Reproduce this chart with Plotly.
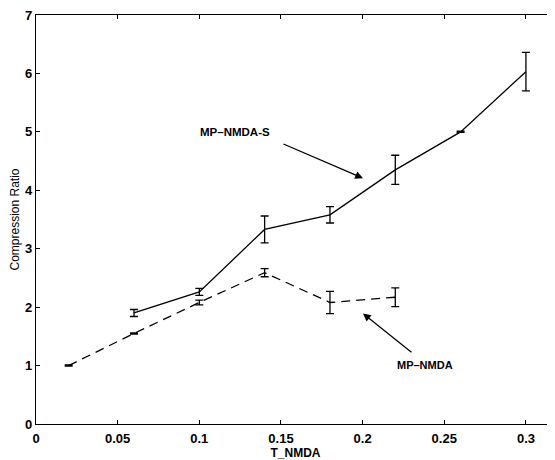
import plotly.graph_objects as go

# MP-NMDA-S (solid)
s_x = [0.06, 0.10, 0.14, 0.18, 0.22, 0.26, 0.30]
s_y = [1.90, 2.26, 3.33, 3.58, 4.35, 5.00, 6.03]
s_err = [0.06, 0.06, 0.23, 0.14, 0.25, 0.01, 0.33]

# MP-NMDA (dashed)
d_x = [0.02, 0.06, 0.10, 0.14, 0.18, 0.22]
d_y = [1.00, 1.55, 2.08, 2.59, 2.08, 2.17]
d_err = [0.01, 0.01, 0.04, 0.07, 0.19, 0.16]

x_ticks = [0, 0.05, 0.1, 0.15, 0.2, 0.25, 0.3]
x_tick_labels = ["0", "0.05", "0.1", "0.15", "0.2", "0.25", "0.3"]
y_ticks = [0, 1, 2, 3, 4, 5, 6, 7]

font_main = "Liberation Sans, Arial, sans-serif"

fig = go.Figure()
fig.add_trace(go.Scatter(
    x=s_x, y=s_y, mode="lines",
    line=dict(color="black", width=1.3),
    error_y=dict(type="data", array=s_err, color="black", thickness=1.3, width=4),
    showlegend=False))
fig.add_trace(go.Scatter(
    x=d_x, y=d_y, mode="lines",
    line=dict(color="black", width=1.3, dash="9px,6px"),
    error_y=dict(type="data", array=d_err, color="black", thickness=1.3, width=4),
    showlegend=False))
# right-side mirrored ticks (no line)
fig.add_trace(go.Scatter(x=[None], y=[None], yaxis="y2", showlegend=False))

fig.add_annotation(x=0.2002, y=4.207, ax=0.1506, ay=4.803, axref="x", ayref="y",
                   showarrow=True, arrowhead=2, arrowsize=1.2, arrowwidth=1.3,
                   arrowcolor="black", text="")
fig.add_annotation(x=0.1218, y=4.99, text="<b>MP\u2013NMDA-S</b>", showarrow=False,
                   font=dict(family=font_main, size=11.5, color="black"))
fig.add_annotation(x=0.2002, y=1.891, ax=0.2308, ay=1.209, axref="x", ayref="y",
                   showarrow=True, arrowhead=2, arrowsize=1.2, arrowwidth=1.3,
                   arrowcolor="black", text="")
fig.add_annotation(x=0.2382, y=1.005, text="<b>MP\u2013NMDA</b>", showarrow=False,
                   font=dict(family=font_main, size=11, color="black"))

tick_font = dict(family=font_main, size=13, color="black", weight="bold")

# page body has an 8px margin; size figure so it ends at the window edge
fig.update_layout(
    width=547, height=452,
    margin=dict(l=28, r=0, t=5, b=36),
    paper_bgcolor="white", plot_bgcolor="white",
    font=dict(family=font_main, color="black"),
    xaxis=dict(range=[0, 0.3178], tickvals=x_ticks, ticktext=x_tick_labels,
               ticks="inside", ticklen=4, tickcolor="black",
               showline=True, linecolor="black", linewidth=1.3, mirror="ticks",
               showgrid=False, zeroline=False, ticklabelstandoff=2,
               ticklabeloverflow="allow",
               tickfont=tick_font,
               title=dict(text="<b>T_NMDA</b>", standoff=1,
                          font=dict(family=font_main, size=12, color="black"))),
    yaxis=dict(range=[0, 7], tickvals=y_ticks,
               ticks="inside", ticklen=4, tickcolor="black",
               showline=True, linecolor="black", linewidth=1.3, mirror=False,
               showgrid=False, zeroline=False, ticklabeloverflow="allow",
               tickfont=tick_font,
               title=dict(text="Compression Ratio", standoff=3,
                          font=dict(family=font_main, size=12, color="black"))),
    yaxis2=dict(range=[0, 7], tickvals=y_ticks, overlaying="y", side="right",
                ticks="inside", ticklen=4, tickcolor="black",
                showticklabels=False, showline=False, showgrid=False, zeroline=False),
)

fig.write_html("out.html")
